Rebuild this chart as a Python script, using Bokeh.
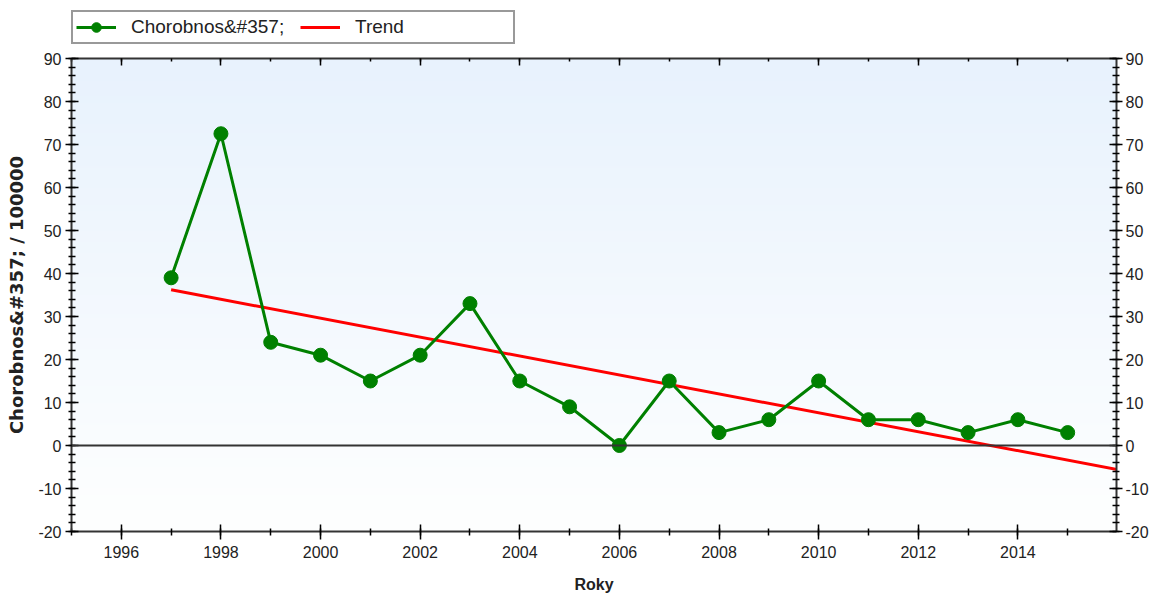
import numpy as np
from bokeh.plotting import figure
from bokeh.layouts import column
from bokeh.models import (LinearAxis, SingleIntervalTicker, Span, Legend,
                          LegendItem, Range1d, PrintfTickFormatter,
                          CustomJSTickFormatter)
from bokeh.embed import file_html
from bokeh.resources import INLINE

# ---- data ----
years = [1997, 1998, 1999, 2000, 2001, 2002, 2003, 2004, 2005, 2006,
         2007, 2008, 2009, 2010, 2011, 2012, 2013, 2014, 2015]
values = [39, 72.5, 24, 21, 15, 21, 33, 15, 9, 0,
          15, 3, 6, 15, 6, 6, 3, 6, 3]
trend_years = [1997, 2016]
trend_values = [36.2, -5.6]
series_label = "Chorobnos&#357;"
trend_label = "Trend"
x_title = "Roky"
y_title = "Chorobnos&#357; / 100000"
x_start, x_end = 1995, 2015.98
y_start, y_end = -20, 90

TICK_FONT = "Liberation Sans"
AX_COL = "#333333"
GREEN = "#008000"
RED = "#ff0000"

BL, BR = 71, 30

p = figure(frame_width=1045, frame_height=473,
           x_range=Range1d(x_start, x_end), y_range=Range1d(y_start, y_end),
           output_backend="svg", toolbar_location=None,
           min_border_left=BL, min_border_right=BR,
           min_border_top=9, min_border_bottom=62,
           background_fill_color="white", border_fill_color="white")
p.outline_line_color = None
p.xgrid.visible = False
p.ygrid.visible = False

# gradient background of the plot area
n = 256
img = np.empty((n, 1), dtype=np.uint32)
view = img.view(dtype=np.uint8).reshape((n, 1, 4))
t = np.linspace(0, 1, n)
bottom_c = np.array([254, 255, 255])
top_c = np.array([232, 242, 253])
for i in range(3):
    view[:, 0, i] = (bottom_c[i] + (top_c[i] - bottom_c[i]) * t).astype(np.uint8)
view[:, 0, 3] = 255
p.image_rgba(image=[img], x=x_start, y=y_start, dw=x_end - x_start, dh=y_end - y_start)

# zero line
p.add_layout(Span(location=0, dimension="width", line_color=AX_COL, line_width=2))

# trend and data
p.line(trend_years, trend_values, line_color=RED, line_width=3)
p.line(years, values, line_color=GREEN, line_width=3)
p.scatter(years, values, marker="circle", size=14, fill_color=GREEN, line_color=GREEN)


def style_axis(ax, major_in, major_out, minor_in, minor_out):
    ax.axis_line_color = AX_COL
    ax.axis_line_width = 2
    ax.major_tick_line_color = "black"
    ax.minor_tick_line_color = "black"
    ax.major_tick_line_width = 1.5
    ax.minor_tick_line_width = 1.5
    ax.major_tick_in = major_in
    ax.major_tick_out = major_out
    ax.minor_tick_in = minor_in
    ax.minor_tick_out = minor_out
    ax.major_label_text_font = TICK_FONT
    ax.major_label_text_font_size = "16px"
    ax.major_label_text_color = "#222222"
    ax.formatter = PrintfTickFormatter(format="%d")


# bottom axis
xa = p.xaxis[0]
xa.ticker = SingleIntervalTicker(interval=2, num_minor_ticks=2)
style_axis(xa, 7, 8, 3, 4)
xa.major_label_standoff = 6
xa.axis_label = x_title
xa.axis_label_text_font = TICK_FONT
xa.axis_label_text_font_style = "bold"
xa.axis_label_text_font_size = "16px"
xa.axis_label_text_color = "#222222"
xa.axis_label_standoff = 15

# left axis
ya = p.yaxis[0]
ya.ticker = SingleIntervalTicker(interval=10, num_minor_ticks=5)
style_axis(ya, 7, 6, 4, 3)
ya.major_label_standoff = 4
ya.axis_label = y_title
ya.axis_label_text_font = "DejaVu Sans"
ya.axis_label_text_font_style = "bold"
ya.axis_label_text_font_size = "18px"
ya.axis_label_text_color = "#222222"
ya.axis_label_standoff = 8

# right axis
ra = LinearAxis(ticker=SingleIntervalTicker(interval=10, num_minor_ticks=5))
style_axis(ra, 7, 6, 4, 3)
ra.major_label_standoff = 3
p.add_layout(ra, "right")

# top axis (ticks only)
ta = LinearAxis(ticker=SingleIntervalTicker(interval=2, num_minor_ticks=2))
style_axis(ta, 7, 0, 3, 0)
ta.formatter = CustomJSTickFormatter(code="return ''")
ta.major_label_standoff = 0
p.add_layout(ta, "above")

# ---- legend strip above the chart ----
lg = figure(frame_width=1045, frame_height=41,
            x_range=Range1d(x_start, x_end), y_range=Range1d(1000, 1001),
            output_backend="svg", toolbar_location=None,
            x_axis_type=None, y_axis_type=None,
            min_border_left=BL, min_border_right=BR,
            min_border_top=8, min_border_bottom=0,
            background_fill_color="white", border_fill_color="white")
lg.outline_line_color = None
lg.xgrid.visible = False
lg.ygrid.visible = False
lgl = lg.line(years, values, line_color=GREEN, line_width=3)
lgs = lg.scatter(years, values, marker="circle", size=14, fill_color=GREEN, line_color=GREEN)
lgt = lg.line(trend_years, trend_values, line_color=RED, line_width=3)

legend = Legend(items=[LegendItem(label=series_label, renderers=[lgl, lgs]),
                       LegendItem(label=trend_label, renderers=[lgt])],
                orientation="horizontal", location=(0, 5))
legend.border_line_color = AX_COL
legend.border_line_width = 2
legend.background_fill_color = "white"
legend.background_fill_alpha = 1
legend.label_text_font = TICK_FONT
legend.label_text_font_size = "19px"
legend.label_text_color = "#222222"
legend.glyph_width = 40
legend.glyph_height = 24
legend.label_standoff = 15
legend.label_width = 155
legend.label_height = 20
legend.spacing = 14
legend.padding = 3
legend.margin = 0
lg.add_layout(legend)

layout = column(lg, p, spacing=0)
open("out.html", "w").write(file_html(layout, INLINE))
